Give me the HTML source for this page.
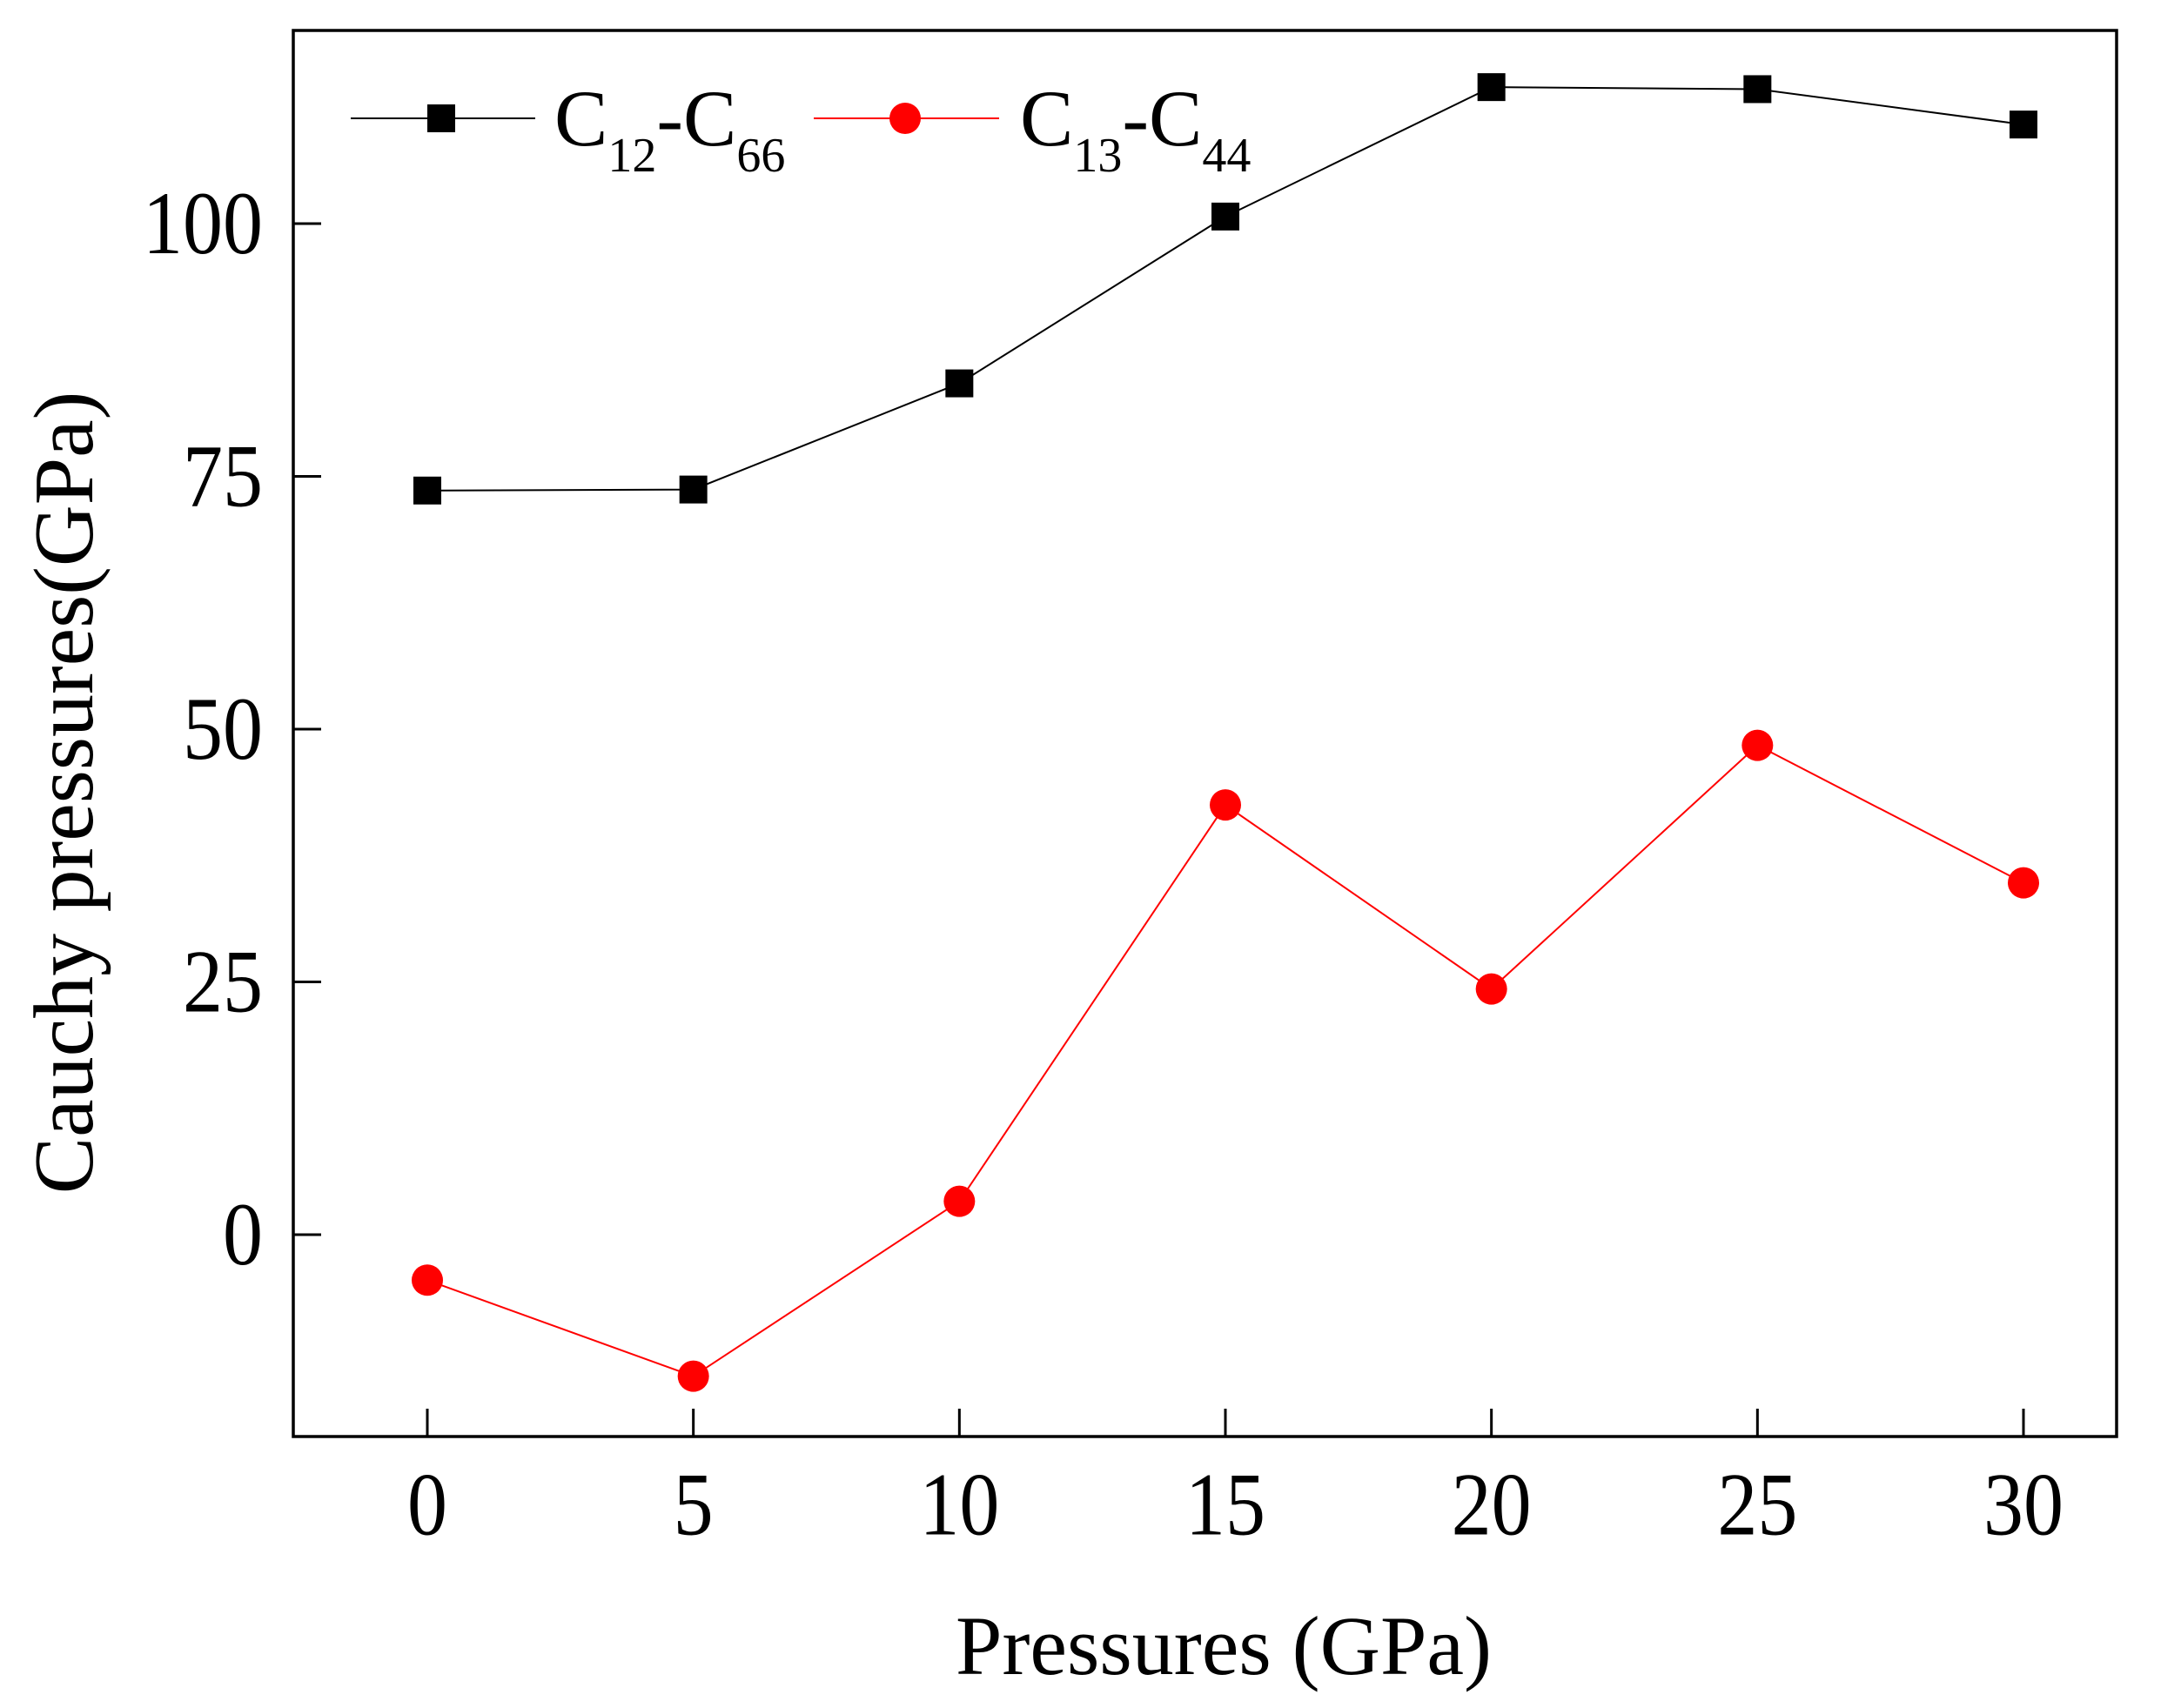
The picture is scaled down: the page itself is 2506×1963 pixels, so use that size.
<!DOCTYPE html>
<html><head><meta charset="utf-8"><style>
html,body{margin:0;padding:0;background:#fff}
svg text{font-family:"Liberation Serif",serif;fill:#000}
</style></head><body>
<svg id="chart" width="2506" height="1958" viewBox="0 0 2506 1958" xmlns="http://www.w3.org/2000/svg">
<rect x="0" y="0" width="2506" height="1958" fill="#fff"/>
<g id="plot"></g>
</svg>
<script>
const categories = [0, 5, 10, 15, 20, 25, 30];
const seriesC12C66 = [73.6, 73.7, 84.2, 100.7, 113.5, 113.3, 109.8];
const seriesC13C44 = [-4.5, -14.0, 3.3, 42.5, 24.3, 48.4, 34.8];
const xTicks = [0, 5, 10, 15, 20, 25, 30];
const yTicks = [0, 25, 50, 75, 100];

const NS = "http://www.w3.org/2000/svg";
const g = document.getElementById('plot');
const L = 337, R = 2432, T = 35, B = 1651;
function xs(v){ return 491 + (v - 0) * (2325 - 491) / 30; }
function ys(v){ return 1419 - v * (1419 - 257) / 100; }
function mk(tag, attrs, parent){
  const e = document.createElementNS(NS, tag);
  for (const k in attrs) e.setAttribute(k, attrs[k]);
  (parent || g).appendChild(e);
  return e;
}
const frame = mk('rect', {x:L, y:T, width:R-L, height:B-T, fill:'none', stroke:'#000', 'stroke-width':3.5});


xTicks.forEach(v => {
  const t = mk('line', {x1:xs(v), x2:xs(v), y1:B, y2:B-32, stroke:'#000', 'stroke-width':3});
  
  
  const lb = mk('text', {x:xs(v), y:1764, 'font-size':92, 'text-anchor':'middle', transform:'translate(0,-212) scale(1,1.12)'});
  lb.textContent = v;
  
  
});
yTicks.forEach(v => {
  const t = mk('line', {x1:L, x2:L+32, y1:ys(v), y2:ys(v), stroke:'#000', 'stroke-width':3});
  
  
  const y0 = ys(v)+34;
  const lb = mk('text', {x:302, y:y0, 'font-size':92, 'text-anchor':'end', transform:'translate(0,' + (-0.12*y0) + ') scale(1,1.12)'});
  lb.textContent = v;
  
  
});
const xt = mk('text', {x:1406, y:1924, 'font-size':96, 'text-anchor':'middle'});
xt.textContent = 'Pressures (GPa)';


const yt = mk('text', {x:0, y:0, 'font-size':98, 'text-anchor':'middle', transform:'translate(106,911) rotate(-90)'});
yt.textContent = 'Cauchy pressures(GPa)';


function drawSeries(vals, color, shape, name){
  const pts = vals.map((v,i) => xs(categories[i]) + ',' + ys(v)).join(' ');
  const pl = mk('polyline', {points:pts, fill:'none', stroke:color, 'stroke-width':2});
  
  
  vals.forEach((v,i) => {
    let m;
    if (shape === 'square') m = mk('rect', {x:xs(categories[i])-16, y:ys(v)-16, width:32, height:32, fill:color});
    else m = mk('circle', {cx:xs(categories[i]), cy:ys(v), r:18, fill:color});
    
    
  });
}
drawSeries(seriesC12C66, '#000', 'square', 'c12-c66');
drawSeries(seriesC13C44, '#ff0000', 'circle', 'c13-c44');
const lg = mk('g', {});


const l1 = mk('line', {x1:403, x2:615, y1:136, y2:136, stroke:'#000', 'stroke-width':2}, lg);


const m1 = mk('rect', {x:491, y:120, width:32, height:32, fill:'#000'}, lg);


const t1 = mk('text', {x:637, y:167, 'font-size':92}, lg);
t1.innerHTML = 'C<tspan font-size="56" dy="30">12</tspan><tspan dy="-30">-C</tspan><tspan font-size="56" dy="30">66</tspan>';


const l2 = mk('line', {x1:935, x2:1148, y1:136, y2:136, stroke:'#ff0000', 'stroke-width':2}, lg);


const m2 = mk('circle', {cx:1040, cy:136, r:18, fill:'#ff0000'}, lg);


const t2 = mk('text', {x:1172, y:167, 'font-size':92}, lg);
t2.innerHTML = 'C<tspan font-size="56" dy="30">13</tspan><tspan dy="-30">-C</tspan><tspan font-size="56" dy="30">44</tspan>';


</script>
</body></html>
